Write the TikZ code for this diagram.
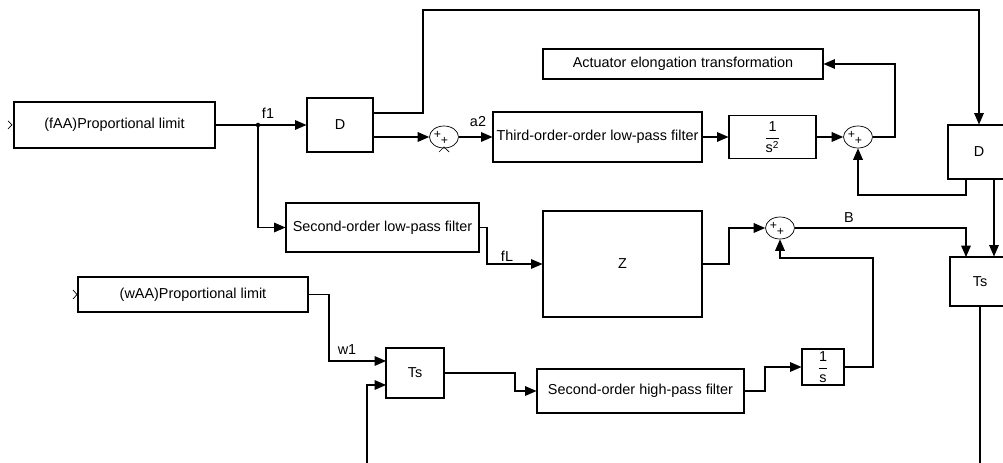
\documentclass[tikz,border=0pt]{standalone}
\usepackage{amsmath}
\usepackage{fontspec}
\setmainfont{Liberation Sans}
\usepackage{tikz}
\usetikzlibrary{positioning,arrows.meta,shapes.geometric,calc}
\newcommand{\sumsigns}[1]{%
  \node[sgn] at ([xshift=-1.3mm,yshift=0.5mm]#1.center) {+};
  \node[sgn] at ([xshift=0.1mm,yshift=-0.7mm]#1.center) {+};}

\begin{document}
\begin{tikzpicture}[x=0.2mm, y=-0.2mm, line width=0.6pt,
    font=\fontsize{8.2}{10}\selectfont,
    blk/.style 2 args={rectangle, draw, minimum width=#1*0.2mm, minimum height=#2*0.2mm, inner sep=0pt, align=center},
    sumblk/.style={ellipse, draw, line width=0.4pt, minimum width=29*0.2mm, minimum height=22*0.2mm, inner sep=0pt},
    sgn/.style={font=\fontsize{7}{7}\selectfont, inner sep=0pt},
    sig/.style={-{Triangle[length=6.5pt,width=5.5pt]}},
    lbl/.style={inner sep=1pt}
]
\clip (0,0) rectangle (1003,463);
% blocks
\node[blk={201}{46}] (fAA) at (114.5,125) {(fAA)Proportional limit};
\node[blk={66}{54}] (D1) at (340,125) {D};
\node[sumblk] (sum1) at (444,137) {};
\node[blk={209}{50}] (lp3) at (597.5,137) {Third-order-order low-pass filter};
\node[blk={87}{43}] (inv2) at (772.5,137) {$\dfrac{\text{1}}{\text{s}^{\text{2}}}$};
\node[sumblk] (sum2) at (858,137) {};
\node[blk={280}{30}] (act) at (683,64) {Actuator elongation transformation};
\node[blk={62}{54}] (D2) at (979,152) {D};
\node[blk={60}{49}] (Ts2) at (980,281.5) {Ts};
\node[blk={193}{49}] (lp2) at (382.5,227.5) {Second-order low-pass filter};
\node[blk={159}{106}] (Z) at (622.5,264) {Z};
\node[sumblk] (sum3) at (780,228) {};
\node[blk={230}{35}] (wAA) at (193,294.5) {(wAA)Proportional limit};
\node[blk={58}{50}] (Ts1) at (415,373) {Ts};
\node[blk={207}{44}] (hp2) at (640.5,391) {Second-order high-pass filter};
\node[blk={42}{36}] (inv1) at (823,367) {$\dfrac{\text{1}}{\text{s}}$};
\sumsigns{sum1}
\sumsigns{sum2}
\sumsigns{sum3}
% ports
\coordinate (f1) at (258,125);
\coordinate (d1a) at (373,113);
\coordinate (d1b) at (373,137);
\coordinate (d2a) at (966,179);
\coordinate (d2b) at (994,179);
\coordinate (ts2a) at (966,257);
\coordinate (ts1a) at (386,361);
\coordinate (ts1b) at (386,385);
\coordinate (ts1in) at (367,470);
\coordinate (ts2out) at (980,470);
% signal labels
\node[lbl] (f1lbl) at (268,113) {f1};
\node[lbl] (a2lbl) at (478,122) {a2};
\node[lbl] (fLlbl) at (507,256) {fL};
\node[lbl] (Blbl) at (849,218) {B};
\node[lbl] (w1lbl) at (347,350) {w1};
% connectors
\draw (fAA.east) -- (f1);
\fill (f1) circle[radius=0.45mm];
\draw[sig] (f1) -- (D1.west);
\draw[sig] (d1a) -| (423,10) -| (D2.north);
\draw[sig] (d1b) -- (sum1.west);
\draw[sig] (sum1.east) -- (lp3.west);
\draw[sig] (lp3) -- (inv2);
\draw[sig] (inv2) -- (sum2);
\draw[sig] (sum2.east) -- (895,137) |- (act.east);
\draw[sig] (d2a) -- (966,195) -| (sum2.south);
\draw[sig] (d2b) -- (d2b |- Ts2.north);
\draw[sig] (sum3.east) -| (ts2a);
\draw (Ts2.south) -- (ts2out);
\draw[sig] (f1) |- (lp2.west);
\draw[sig] (lp2.east) -- (487,227.5) |- (Z.west);
\draw[sig] (Z.east) -- (729,264) |- (sum3.west);
\draw[sig] (inv1.east) -| (873,258) -| (sum3.south);
\draw[sig] (wAA.east) -- (329,294.5) |- (ts1a);
\draw[sig] (ts1in) |- (ts1b);
\draw[sig] (Ts1.east) -- (515,373) |- (hp2.west);
\draw[sig] (hp2.east) -- (765,391) |- (inv1.west);
% open input chevrons
\draw[line width=0.4pt] (8,121) -- (12,125) -- (8,129);
\draw[line width=0.4pt] (73,290) -- (77,294.5) -- (73,299);
\draw[line width=0.4pt] (439,152) -- (444,147) -- (449,152);
\end{tikzpicture}
\end{document}
